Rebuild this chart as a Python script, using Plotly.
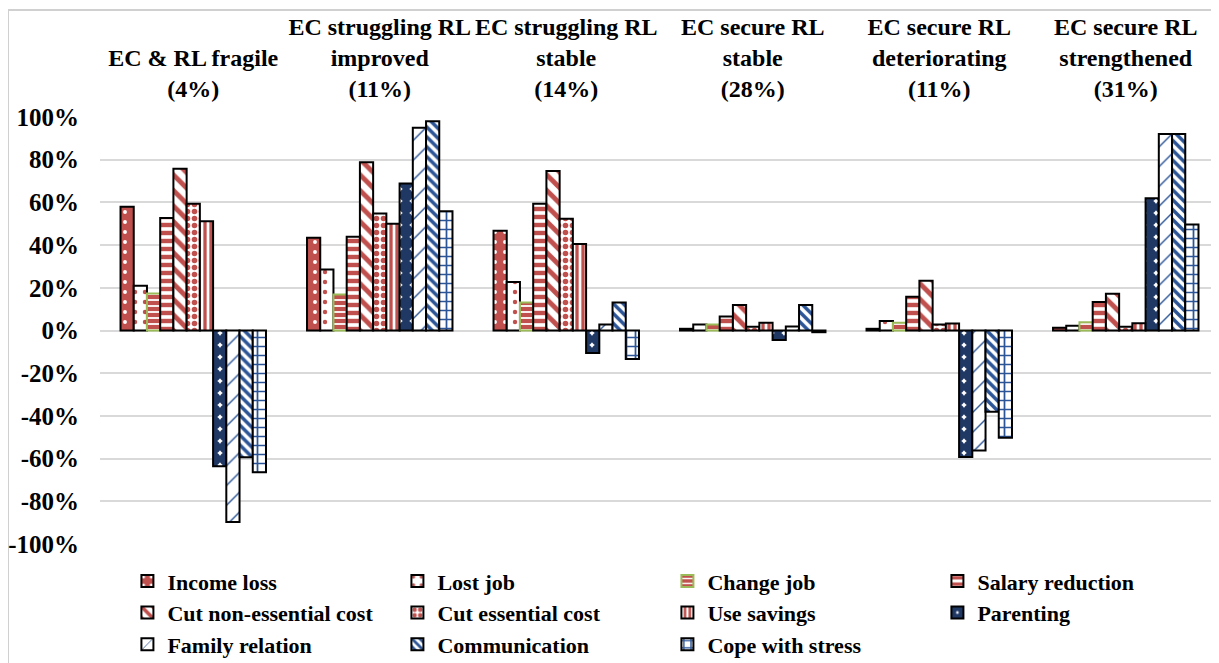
import plotly.graph_objects as go

categories = ["EC & RL fragile<br>(4%)",
              "EC struggling RL<br>improved<br>(11%)",
              "EC struggling RL<br>stable<br>(14%)",
              "EC secure RL<br>stable<br>(28%)",
              "EC secure RL<br>deteriorating<br>(11%)",
              "EC secure RL<br>strengthened<br>(31%)"]

income_loss = [58.0, 43.4, 46.7, 0.8, 0.8, 1.3]
lost_job = [21.0, 28.6, 22.7, 2.8, 4.5, 2.2]
change_job = [17.3, 16.9, 13.1, 2.8, 3.6, 3.9]
salary_reduction = [52.7, 43.9, 59.4, 6.6, 15.8, 13.4]
cut_non_essential = [75.8, 78.8, 74.7, 11.9, 23.3, 17.2]
cut_essential = [59.4, 54.8, 52.3, 1.7, 2.8, 1.7]
use_savings = [51.2, 50.0, 40.5, 3.6, 3.3, 3.4]
parenting = [-63.6, 68.9, -10.5, -4.5, -59.3, 61.9]
family_relation = [-89.7, 95.0, 2.8, 1.9, -56.2, 92.0]
communication = [-59.4, 98.0, 13.1, 11.9, -38.0, 92.0]
cope_with_stress = [-66.4, 55.8, -13.3, -0.8, -50.2, 49.7]

y_ticks = [-100, -80, -60, -40, -20, 0, 20, 40, 60, 80, 100]
y_tick_labels = ["-100%", "-80%", "-60%", "-40%", "-20%", "0%",
                 "20%", "40%", "60%", "80%", "100%"]

RED = "#C0504D"
NAVY = "#1F3864"
BLUE = "#2C5597"
WHITE = "#FFFFFF"
GREEN = "#9BBB59"

series = [
    ("Income loss", income_loss, dict(shape=".", bg=RED, fg=WHITE, size=10, sol=0.12), "black"),
    ("Lost job", lost_job, dict(shape=".", bg=WHITE, fg=RED, size=10, sol=0.15), "black"),
    ("Change job", change_job, dict(shape="-", bg=RED, fg=WHITE, size=6, sol=0.3), GREEN),
    ("Salary reduction", salary_reduction, dict(shape="-", bg=WHITE, fg=RED, size=8, sol=0.55), "black"),
    ("Cut non-essential cost", cut_non_essential, dict(shape="\\", bg=WHITE, fg=RED, size=11, sol=0.45), "black"),
    ("Cut essential cost", cut_essential, dict(shape=".", bg=WHITE, fg=RED, size=7, sol=0.5), "black"),
    ("Use savings", use_savings, dict(shape="|", bg=WHITE, fg=RED, size=6, sol=0.55), "black"),
    ("Parenting", parenting, dict(shape=".", bg=WHITE, fg=NAVY, size=12, sol=0.85), "black"),
    ("Family relation", family_relation, dict(shape="/", bg=WHITE, fg=BLUE, size=14, sol=0.1), "black"),
    ("Communication", communication, dict(shape="\\", bg=WHITE, fg=BLUE, size=7, sol=0.5), "black"),
    ("Cope with stress", cope_with_stress, dict(shape="+", bg=WHITE, fg=BLUE, size=9, sol=0.35), "black"),
]

HEAD_FONT = dict(family="Liberation Serif", size=24, color="black", weight="bold")
TICK_FONT = dict(family="Liberation Serif", size=25, color="black", weight="bold")
LEG_FONT = dict(family="Liberation Serif", size=22, color="black", weight="bold")

fig = go.Figure()
for name, vals, p, lc in series:
    fig.add_trace(go.Bar(
        name=name, x=categories, y=vals,
        marker=dict(color=p["bg"],
                    line=dict(color=lc, width=2),
                    pattern=dict(shape=p["shape"], fgcolor=p["fg"], bgcolor=p["bg"],
                                 fgopacity=1, size=p["size"], solidity=p["sol"],
                                 fillmode="overlay")),
    ))

fig.update_layout(
    width=1211, height=655,
    margin=dict(l=92, r=0, t=109, b=119),
    barmode="group", bargap=0.22, bargroupgap=0,
    plot_bgcolor="white", paper_bgcolor="white",
    font=TICK_FONT,
    showlegend=True,
    legend=dict(orientation="h", x=0.0245, xanchor="left",
                yref="container", y=0.157, yanchor="top",
                font=LEG_FONT, entrywidth=225, entrywidthmode="pixels",
                traceorder="normal", itemwidth=30),
    xaxis=dict(side="top", showgrid=False, showline=False, ticks="",
               tickfont=HEAD_FONT, ticklabelstandoff=14, automargin=False),
    yaxis=dict(range=[-100, 100], tickvals=y_ticks, ticktext=y_tick_labels,
               showgrid=True, gridcolor="#D9D9D9", gridwidth=1.5,
               zeroline=True, zerolinecolor="#D9D9D9", zerolinewidth=1.5,
               tickfont=TICK_FONT, ticklabelstandoff=20, automargin=False),
    shapes=[dict(type="rect", xref="paper", yref="paper",
                 x0=-0.0822, x1=1.05, y0=-0.5, y1=1.2506,
                 line=dict(color="#D0D0D0", width=2), fillcolor="rgba(0,0,0,0)",
                 layer="below")],
)

fig.write_html("out.html")
